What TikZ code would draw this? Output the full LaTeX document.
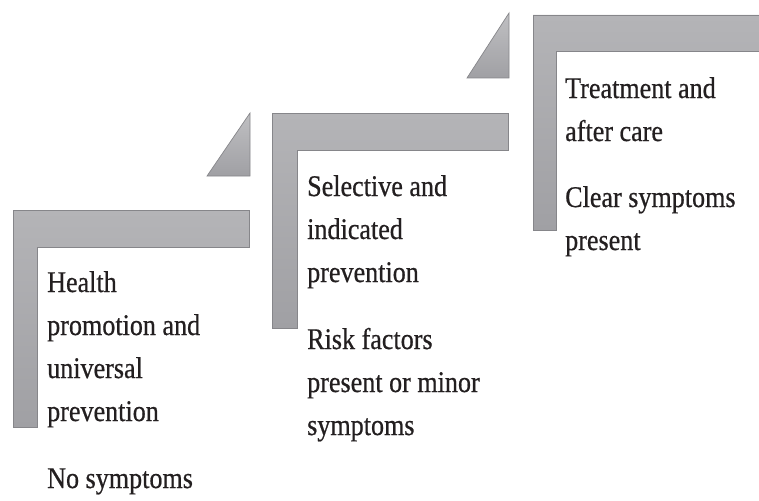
\documentclass[tikz,border=0pt]{standalone}
\usepackage{fontspec}
\setmainfont[FakeStretch=0.87,FakeBold=0.6]{Liberation Serif}
\usepackage{xcolor}
\usetikzlibrary{positioning}

\definecolor{steptop}{HTML}{B4B4B7}
\definecolor{stepbottom}{HTML}{A0A0A4}
\definecolor{stepedge}{HTML}{86868A}
\definecolor{textblack}{HTML}{231F20}

\begin{document}
\begin{tikzpicture}[x=1pt, y=-1pt,
    % Styles for the stair steps and their texts
    stepshape/.style={draw=stepedge, line width=0.7pt, top color=steptop, bottom color=stepbottom},
    ramp/.style={draw=stepedge, line width=0.7pt, top color=steptop!85!white, bottom color=stepbottom},
    steptext/.style={anchor=base west, align=left, inner sep=0pt, text=textblack,
        font=\fontsize{30}{43}\selectfont}]

    \useasboundingbox (0,0) rectangle (759,500);

    % Step 1: health promotion
    \path [stepshape] (13,210) -- (249,210) -- (249,247) -- (37,247) -- (37,427) -- (13,427) -- cycle;

    % Ramp between step 1 and step 2
    \path [ramp] (250,113) -- (250,176) -- (207,176) -- cycle;

    % Step 2: selective prevention
    \path [stepshape] (272,113) -- (508,113) -- (508,150) -- (297,150) -- (297,328) -- (272,328) -- cycle;

    % Ramp between step 2 and step 3
    \path [ramp] (509,13) -- (509,78) -- (467,78) -- cycle;

    % Step 3: treatment (runs off the right edge)
    \path [stepshape] (533,15) -- (775,15) -- (775,51) -- (556,51) -- (556,230) -- (533,230) -- cycle;

    % Texts (anchored at the baseline of their last line)
    \node [steptext] (health) at (47,421) {Health\\promotion and\\universal\\prevention};
    \node [steptext] (nosymptoms) at (47,488) {No symptoms};

    \node [steptext] (selective) at (307,282) {Selective and\\indicated\\prevention};
    \node [steptext] (riskfactors) at (307,435) {Risk factors\\present or minor\\symptoms};

    \node [steptext] (treatment) at (565,141) {Treatment and\\after care};
    \node [steptext] (clearsymptoms) at (565,250) {Clear symptoms\\present};

\end{tikzpicture}
\end{document}
